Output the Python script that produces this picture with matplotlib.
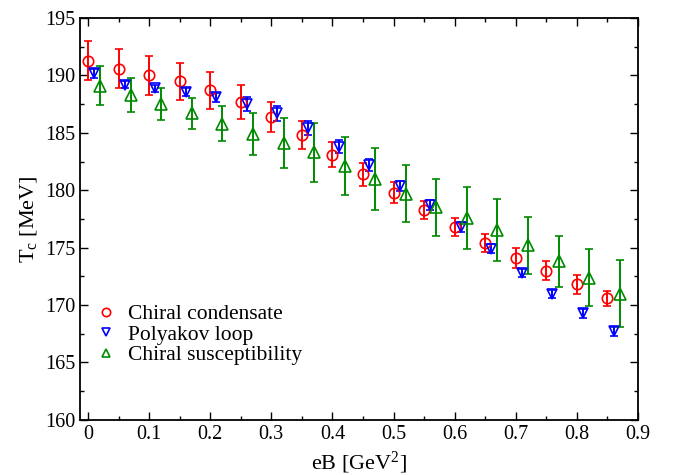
import matplotlib.pyplot as plt
from matplotlib.ticker import MultipleLocator

plt.rcParams['font.family'] = ['Liberation Serif', 'DejaVu Serif']
plt.rcParams['mathtext.fontset'] = 'custom'
plt.rcParams['mathtext.rm'] = 'Liberation Serif'
plt.rcParams['mathtext.it'] = 'Liberation Serif'

# Chiral condensate
EB_CC = [0.00, 0.05, 0.10, 0.15, 0.20, 0.25, 0.30, 0.35, 0.40, 0.45, 0.50, 0.55, 0.60, 0.65, 0.70, 0.75, 0.80, 0.85]
TC_CC = [191.3, 190.6, 190.0, 189.5, 188.7, 187.7, 186.4, 184.8, 183.1, 181.4, 179.8, 178.3, 176.8, 175.4, 174.1, 173.0, 171.8, 170.6]
ERR_CC = [1.7, 1.7, 1.7, 1.6, 1.6, 1.5, 1.3, 1.2, 1.1, 1.0, 0.9, 0.8, 0.8, 0.8, 0.85, 0.85, 0.8, 0.65]

# Polyakov loop
EB_PL = [0.01, 0.06, 0.11, 0.16, 0.21, 0.26, 0.31, 0.36, 0.41, 0.46, 0.51, 0.56, 0.61, 0.66, 0.71, 0.76, 0.81, 0.86]
TC_PL = [190.2, 189.2, 188.9, 188.6, 188.1, 187.5, 186.7, 185.4, 183.8, 182.2, 180.4, 178.7, 176.8, 174.9, 172.8, 171.0, 169.3, 167.7]
ERR_PL = [0.4, 0.3, 0.3, 0.35, 0.4, 0.6, 0.65, 0.6, 0.55, 0.5, 0.45, 0.45, 0.4, 0.4, 0.35, 0.35, 0.4, 0.35]

# Chiral susceptibility
EB_CS = [0.02, 0.07, 0.12, 0.17, 0.22, 0.27, 0.32, 0.37, 0.42, 0.47, 0.52, 0.57, 0.62, 0.67, 0.72, 0.77, 0.82, 0.87]
TC_CS = [189.1, 188.3, 187.5, 186.7, 185.8, 184.9, 184.1, 183.3, 182.1, 181.0, 179.7, 178.5, 177.6, 176.5, 175.2, 173.8, 172.4, 171.0]
ERR_CS = [1.7, 1.5, 1.4, 1.35, 1.5, 1.8, 2.2, 2.6, 2.55, 2.7, 2.5, 2.5, 2.7, 2.7, 2.45, 2.25, 2.45, 2.95]

LABELS = ['Chiral condensate', 'Polyakov loop', 'Chiral susceptibility']

fig = plt.figure(figsize=(6.78, 4.75), dpi=100)
ax = fig.add_axes([0.118, 0.116, 0.823, 0.846])

kw = dict(mfc='none', mew=1.2, elinewidth=1.4, capsize=3, capthick=1.4)
cc = ax.errorbar(EB_CC, TC_CC, yerr=ERR_CC, fmt='o', color='red', ms=7.5, **kw)
pl = ax.errorbar(EB_PL, TC_PL, yerr=ERR_PL, fmt='v', color='blue', ms=7.5, **kw)
cs = ax.errorbar(EB_CS, TC_CS, yerr=ERR_CS, fmt='^', color='#008a00', ms=8, **kw)

ax.set_xlim(-0.013, 0.9)
ax.set_ylim(160, 195)
ax.xaxis.set_minor_locator(MultipleLocator(0.05))
ax.yaxis.set_major_locator(MultipleLocator(5))
ax.yaxis.set_minor_locator(MultipleLocator(2.5))
ax.set_xticks([0, 0.1, 0.2, 0.3, 0.4, 0.5, 0.6, 0.7, 0.8, 0.9])
ax.set_xticklabels(['0', '0.1', '0.2', '0.3', '0.4', '0.5', '0.6', '0.7', '0.8', '0.9'])
ax.tick_params(which='both', direction='in', top=True, right=True, labelsize=14.5)
ax.tick_params(which='major', length=6, width=1)
ax.tick_params(which='minor', length=3, width=1)
for s in ax.spines.values():
    s.set_linewidth(1.3)

ax.set_xlabel('eB [GeV$^2$]', fontsize=16, labelpad=4)
ax.set_ylabel('T$_c$ [MeV]', fontsize=16, labelpad=4)

ax.legend([cc[0], pl[0], cs[0]], LABELS, loc='lower left', bbox_to_anchor=(-0.012, 0.088),
          frameon=False, fontsize=15.5, handlelength=1.2, handletextpad=0.45,
          labelspacing=0.02, markerscale=0.8)

fig.savefig('out.png', dpi=100)
